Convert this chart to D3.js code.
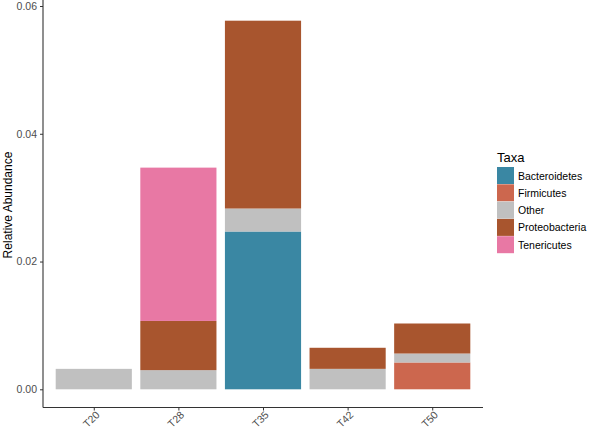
<!DOCTYPE html>
<html><head><meta charset="utf-8">
<script src="https://cdn.jsdelivr.net/npm/d3@7"></script>
<style>body{margin:0;background:#fff;} svg{display:block;font-family:"Liberation Sans",Arial,sans-serif;}</style>
</head><body>
<script>
const samples = ["T20","T28","T35","T42","T50"];
const taxa = ["Bacteroidetes","Firmicutes","Other","Proteobacteria","Tenericutes"];
const colors = ["#3a87a3","#cc674e","#c0c0c0","#a8552e","#e878a4"];
const bacteroidetes = [0, 0, 0.0247, 0, 0];
const firmicutes = [0, 0, 0, 0, 0.0042];
const other = [0.0032, 0.0030, 0.0036, 0.0032, 0.0014];
const proteobacteria = [0, 0.0077, 0.0294, 0.0033, 0.0047];
const tenericutes = [0, 0.0240, 0, 0, 0];
const yTicks = [0.00, 0.02, 0.04, 0.06];

const W = 590, H = 432;
const svg = d3.select("body").append("svg").attr("width", W).attr("height", H);

const series = [bacteroidetes, firmicutes, other, proteobacteria, tenericutes];
const rows = samples.map((s, i) => {
  const r = {sample: s};
  taxa.forEach((t, j) => r[t] = series[j][i]);
  return r;
});
const stack = d3.stack().keys(taxa)(rows);

const plotLeft = 43, plotRight = 483, plotBottom = 407.5;
const y = d3.scaleLinear().domain([0, 0.06]).range([389.3, 6]);
const step = (plotRight - plotLeft) / 5.2;
const xc = d3.scalePoint().domain(samples).range([plotLeft + 0.6 * step, plotRight - 0.6 * step]);
const bw = 0.9 * step;

const color = d3.scaleOrdinal().domain(taxa).range(colors);

const g = svg.append("g");
stack.forEach(layer => {
  g.selectAll(null).data(layer.filter(d => d[1] - d[0] > 0)).enter().append("rect")
    .attr("x", d => xc(d.data.sample) - bw / 2)
    .attr("width", bw)
    .attr("y", d => y(d[1]))
    .attr("height", d => y(d[0]) - y(d[1]))
    .attr("fill", color(layer.key));
});

// Y axis
const yAxis = svg.append("g").attr("transform", `translate(${plotLeft},0)`)
  .call(d3.axisLeft(y).tickValues(yTicks).tickFormat(d3.format(".2f")).tickSize(3).tickPadding(3));
yAxis.select(".domain").attr("d", `M0,0V${plotBottom}`).attr("stroke", "#333").attr("stroke-width", 1.1);
yAxis.selectAll(".tick line").attr("stroke", "#333");
yAxis.selectAll(".tick text").attr("fill", "#4d4d4d").style("font-size", "10.5px");

// X axis
const xAxis = svg.append("g").attr("transform", `translate(0,${plotBottom})`)
  .call(d3.axisBottom(xc).tickSize(3).tickPadding(3));
xAxis.select(".domain").attr("d", `M${plotLeft},0H${plotRight}`).attr("stroke", "#333").attr("stroke-width", 1.1);
xAxis.selectAll(".tick line").attr("stroke", "#333");
xAxis.selectAll(".tick text").attr("fill", "#4d4d4d").style("font-size", "10.5px")
  .attr("text-anchor", "end").attr("dy", null).attr("y", 0)
  .attr("transform", "translate(6,8) rotate(-45)");

// Y label
svg.append("text").attr("transform", "translate(12,205) rotate(-90)")
  .attr("text-anchor", "middle").style("font-size", "12px").attr("fill", "#000")
  .text("Relative Abundance");

// Legend
const lg = svg.append("g").attr("transform", "translate(497,148)");
lg.append("text").attr("x", 0).attr("y", 14).style("font-size", "13px").text("Taxa");
taxa.forEach((t, i) => {
  const yy = 19 + i * 17.3;
  lg.append("rect").attr("x", 0).attr("y", yy).attr("width", 17).attr("height", 17).attr("fill", color(t));
  lg.append("text").attr("x", 21).attr("y", yy + 12.5).style("font-size", "10.5px").attr("fill", "#000").text(t);
});
</script>
</body></html>
